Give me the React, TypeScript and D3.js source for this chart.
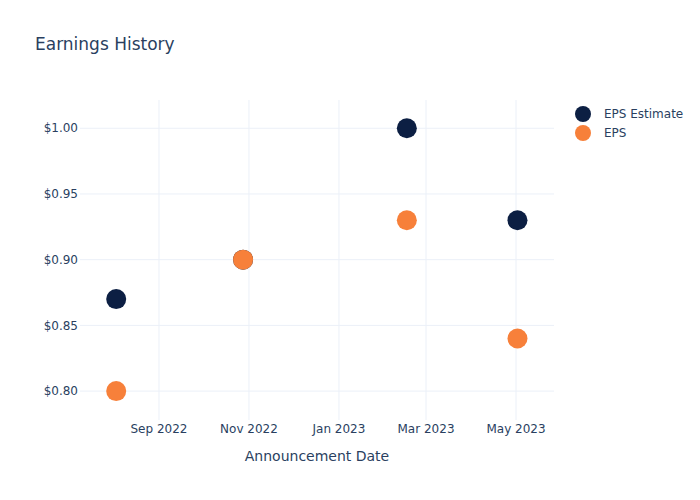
import React from "react";
import * as d3 from "d3";

const dates = ["2022-08-03", "2022-10-28", "2023-02-16", "2023-05-02"];
const epsEstimate = [0.87, 0.9, 1.0, 0.93];
const eps = [0.8, 0.9, 0.93, 0.84];
const xTicks = ["2022-09-01", "2022-11-01", "2023-01-01", "2023-03-01", "2023-05-01"];
const yTicks = [0.8, 0.85, 0.9, 0.95, 1.0];
const seriesNames = ["EPS Estimate", "EPS"];
const colors = ["#0c1f43", "#f7803a"];

const W = 700, H = 500;
const L = 80, R = 554, T = 100, B = 420;
const font = "'DejaVu Sans', 'Open Sans', verdana, arial, sans-serif";
const textColor = "#2a3f5f";

export default function App() {
  const parse = d3.utcParse("%Y-%m-%d");
  const x = d3
    .scaleUtc()
    .domain([new Date(Date.UTC(2022, 6, 9, 11)), new Date(Date.UTC(2023, 4, 26, 18))])
    .range([L, R]);
  const y = d3.scaleLinear().domain([0.778, 1.0215]).range([B, T]);
  const fmtX = d3.utcFormat("%b %Y");
  const fmtY = (v: number) => "$" + v.toFixed(2);
  const series = [epsEstimate, eps];

  return (
    <svg width={W} height={H} style={{ position: "absolute", left: 0, top: 0 }} fontFamily={font}>
      <rect width={W} height={H} fill="#fff" />
      <g>
        {xTicks.map((t) => {
          const xx = x(parse(t)!);
          return <line key={t} x1={xx} x2={xx} y1={T} y2={B} stroke="#ebf0f8" strokeWidth={1} />;
        })}
        {yTicks.map((t) => (
          <line key={t} x1={L} x2={R} y1={y(t)} y2={y(t)} stroke="#ebf0f8" strokeWidth={1} />
        ))}
      </g>
      {yTicks.map((t) => (
        <text key={t} x={L - 2} y={y(t)} dy="0.35em" textAnchor="end" fontSize={12} fill={textColor}>
          {fmtY(t)}
        </text>
      ))}
      {xTicks.map((t) => (
        <text key={t} x={x(parse(t)!)} y={433} textAnchor="middle" fontSize={12} fill={textColor}>
          {fmtX(parse(t)!)}
        </text>
      ))}
      <text x={(L + R) / 2} y={461} textAnchor="middle" fontSize={14} fill={textColor}>
        Announcement Date
      </text>
      <text x={35} y={50} fontSize={17} fill={textColor}>
        Earnings History
      </text>
      {series.map((vals, si) => (
        <g key={si}>
          {vals.map((v, i) => (
            <circle key={i} cx={x(parse(dates[i])!)} cy={y(v)} r={10} fill={colors[si]} />
          ))}
        </g>
      ))}
      {seriesNames.map((n, i) => (
        <g key={n} transform={`translate(583, ${114 + i * 19})`}>
          <circle r={8} fill={colors[i]} />
          <text x={21} dy="0.35em" fontSize={12} fill={textColor}>
            {n}
          </text>
        </g>
      ))}
    </svg>
  );
}
